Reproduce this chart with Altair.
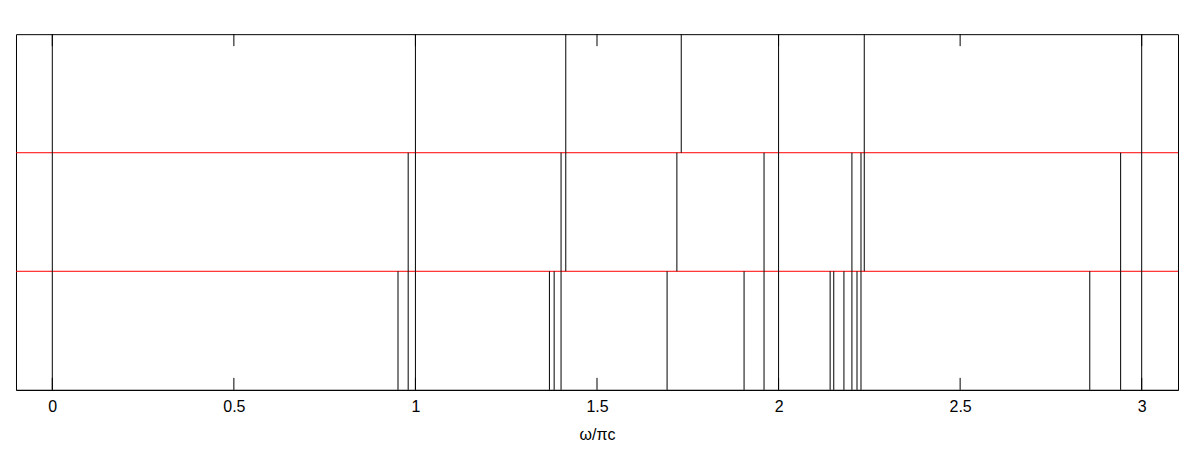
import altair as alt
import pandas as pd

# Line positions (omega / pi c) in each of the three rows (top -> bottom)
top_row = [0.0, 1.0, 1.414, 1.732, 2.0, 2.236, 3.0]
mid_row = [0.0, 0.980, 1.0, 1.401, 1.414, 1.720, 1.960, 2.0, 2.202, 2.227, 2.236, 2.942, 3.0]
bot_row = [0.0, 0.952, 0.980, 1.0, 1.369, 1.382, 1.401, 1.693, 1.905, 1.960, 2.0,
           2.142, 2.152, 2.180, 2.202, 2.216, 2.227, 2.857, 2.942, 3.0]

row_separators = [1, 2]
tick_values = [0, 0.5, 1, 1.5, 2, 2.5, 3]
x_domain = [-0.1, 3.1]
x_title = "ω/πc"

rows = []
for level, vals in [(2, top_row), (1, mid_row), (0, bot_row)]:
    for v in vals:
        rows.append({"x": v, "y0": level, "y1": level + 1})
lines_df = pd.DataFrame(rows)
sep_df = pd.DataFrame({"y": row_separators})
ticks_df = pd.DataFrame({"t": tick_values})

FONT = "Liberation Sans"
W, H = 1163, 356

xscale = alt.Scale(domain=x_domain, nice=False, zero=False)
yscale = alt.Scale(domain=[0, 3], nice=False, zero=False)

xaxis = alt.Axis(
    values=tick_values, format="~g", ticks=False, grid=False,
    labelFont=FONT, labelFontSize=16, labelColor="black", labelPadding=9,
    labelFlush=False, labelOverlap=False,
    title=x_title, titleFont=FONT, titleFontSize=16, titleFontWeight="normal",
    titleColor="black", titlePadding=12,
    domainColor="black", domainWidth=1,
)

vlines = alt.Chart(lines_df).mark_rule(color="black", strokeWidth=1).encode(
    x=alt.X("x:Q", scale=xscale, axis=xaxis),
    y=alt.Y("y0:Q", scale=yscale, axis=None),
    y2="y1:Q",
)

seps = alt.Chart(sep_df).mark_rule(color="#ff0000", strokeWidth=1).encode(
    y=alt.Y("y:Q", scale=yscale, axis=None),
)

ticks_bottom = alt.Chart(ticks_df).mark_rule(color="black", strokeWidth=1).encode(
    x=alt.X("t:Q", scale=xscale),
    y=alt.value(H - 12),
    y2=alt.value(H),
)
ticks_top = alt.Chart(ticks_df).mark_rule(color="black", strokeWidth=1).encode(
    x=alt.X("t:Q", scale=xscale),
    y=alt.value(0),
    y2=alt.value(12),
)

chart = alt.layer(seps, vlines, ticks_bottom, ticks_top).properties(
    width=W, height=H,
    autosize=alt.AutoSizeParams(type="none"),
    padding={"left": 8, "top": 26, "right": 10, "bottom": 52},
    background="white",
).configure_view(
    stroke="black", strokeWidth=1
)

chart.save("out.html", embed_options={"renderer": "svg", "actions": False})
